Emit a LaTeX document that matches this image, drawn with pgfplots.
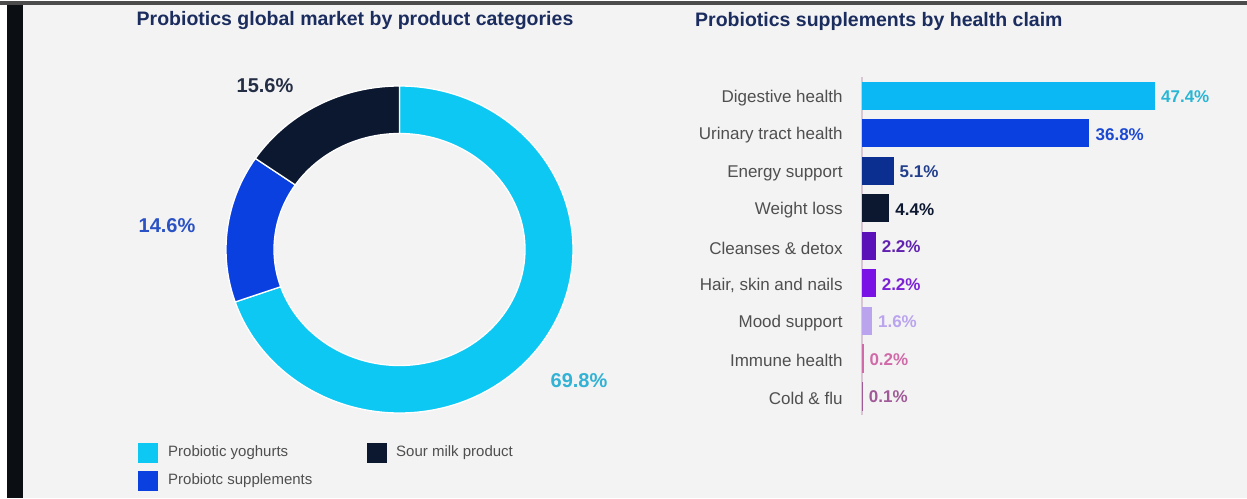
\documentclass[border=0pt]{standalone}
\usepackage{pgfplots}
\pgfplotsset{compat=1.18}
\usepackage{fontspec}
\setmainfont{Liberation Sans}
\definecolor{bgc}{HTML}{F4F3F4}
\definecolor{frame}{HTML}{0B0F14}
\definecolor{titlec}{HTML}{1B2D5E}
\definecolor{labelc}{HTML}{4F4F4F}
\definecolor{cyanc}{HTML}{0CC8F2}
\definecolor{bluec}{HTML}{0A3FE0}
\definecolor{navyc}{HTML}{0C1730}
\definecolor{energyc}{HTML}{0B2F90}
\definecolor{cleansec}{HTML}{5A12B8}
\definecolor{hairc}{HTML}{7A12E6}
\definecolor{moodc}{HTML}{BAA4EE}
\definecolor{immunec}{HTML}{D06AA8}
\definecolor{coldc}{HTML}{A05A98}
\definecolor{axisc}{HTML}{D8C6D2}
% donut values
\def\vyog{69.8}
\def\vsup{14.6}
\def\vsour{15.6}
\pgfmathsetmacro\aA{90}
\pgfmathsetmacro\aB{90-3.6*\vyog}
\pgfmathsetmacro\aC{\aB-3.6*\vsup}
\pgfmathsetmacro\aD{\aC-3.6*\vsour}
\newcommand\seg[3]{%
  \fill[#1, draw=white, line width=1.3pt]
    (axis cs:{173.5*cos(#2)},{163.5*sin(#2)})
    arc[start angle=#2, end angle=#3, x radius=173.5pt, y radius=163.5pt]
    -- (axis cs:{125.5*cos(#3)},{116*sin(#3)})
    arc[start angle=#3, end angle=#2, x radius=125.5pt, y radius=116pt]
    -- cycle;}
\begin{document}
\begin{tikzpicture}[x=1pt,y=1pt]
\fill[bgc] (0,0) rectangle (1247,498);
\fill[white] (0,0) rectangle (7,498);
\fill[frame] (7,0) rectangle (23,498);
\fill[white] (0,496.5) rectangle (1247,498);
\fill[black!70] (0,493) rectangle (1247,496.5);
% titles
\node[font=\fontsize{19.5}{23}\selectfont\bfseries, text=titlec] at (355,477) {Probiotics global market by product categories};
\node[font=\fontsize{19.5}{23}\selectfont\bfseries, text=titlec, anchor=west, inner sep=0pt] at (695,477) {Probiotics supplements by health claim};
% donut
\begin{axis}[at={(399.5pt,248.5pt)}, anchor=center, x=1pt, y=1pt,
  xmin=-200, xmax=200, ymin=-200, ymax=200, hide axis, clip=false]
\seg{cyanc}{\aA}{\aB}
\seg{bluec}{\aB}{\aC}
\seg{navyc}{\aC}{\aD}
\node[font=\fontsize{20}{24}\selectfont\bfseries, text=navyc!90!white] at (axis cs:-134.5,163.5) {15.6\%};
\node[font=\fontsize{20}{24}\selectfont\bfseries, text={rgb,255:red,42;green,82;blue,196}] at (axis cs:-232.5,23.5) {14.6\%};
\node[font=\fontsize{20}{24}\selectfont\bfseries, text={rgb,255:red,50;green,178;blue,212}] at (axis cs:179.5,-131.5) {69.8\%};
\end{axis}
% legend
\fill[cyanc] (138,35) rectangle (158,55);
\fill[bluec] (138,7) rectangle (158,27);
\fill[navyc] (367,35) rectangle (387,55);
\node[font=\fontsize{15}{18}\selectfont, text=labelc, anchor=west, inner sep=0pt] at (168,45) {Probiotic yoghurts};
\node[font=\fontsize{15}{18}\selectfont, text=labelc, anchor=west, inner sep=0pt] at (168,17) {Probiotc supplements};
\node[font=\fontsize{15}{18}\selectfont, text=labelc, anchor=west, inner sep=0pt] at (396,45) {Sour milk product};
% bar chart (category 8 = top row, 0 = bottom row)
\begin{axis}[at={(862pt,83.25pt)}, anchor=south west,
  scale only axis, width=370.8pt, height=337.5pt,
  xmin=0, xmax=60, ymin=-0.5, ymax=8.5,
  xbar, bar width=28pt, bar shift=0pt,
  hide x axis, axis y line*=left,
  y axis line style={-, draw=axisc, line width=1.2pt},
  ytick={0,...,8}, ytick style={draw=none},
  yticklabels={Cold \& flu, Immune health, Mood support, {Hair, skin and nails}, Cleanses \& detox, Weight loss, Energy support, Urinary tract health, Digestive health},
  yticklabel style={font=\fontsize{17}{20}\selectfont, text=labelc, inner sep=0pt, xshift=-15pt, yshift=-2pt},
  point meta=explicit symbolic,
  nodes near coords,
  nodes near coords style={font=\fontsize{17}{20}\selectfont\bfseries, anchor=west, inner sep=0pt, xshift=6pt, yshift=-1pt},
  clip=false]
\addplot[fill=cyanc!92!blue, draw=none, every node near coord/.append style={text=cyanc!75!gray}] coordinates {(47.4,8) [47.4\%]};
\addplot[fill=bluec, draw=none, every node near coord/.append style={text=bluec!85!gray}] coordinates {(36.8,7) [36.8\%]};
\addplot[fill=energyc, draw=none, every node near coord/.append style={text=energyc!80!gray}] coordinates {(5.1,6) [5.1\%]};
\addplot[fill=navyc, draw=none, every node near coord/.append style={text=navyc}] coordinates {(4.4,5) [4.4\%]};
\addplot[fill=cleansec, draw=none, every node near coord/.append style={text=cleansec!85!gray}] coordinates {(2.2,4) [2.2\%]};
\addplot[fill=hairc, draw=none, every node near coord/.append style={text=hairc!85!gray}] coordinates {(2.2,3) [2.2\%]};
\addplot[fill=moodc, draw=none, every node near coord/.append style={text=moodc}] coordinates {(1.6,2) [1.6\%]};
\addplot[fill=immunec, draw=immunec, line width=0.6pt, every node near coord/.append style={text=immunec}] coordinates {(0.2,1) [0.2\%]};
\addplot[fill=coldc, draw=coldc, line width=0.6pt, every node near coord/.append style={text=coldc}] coordinates {(0.1,0) [0.1\%]};
\end{axis}
\end{tikzpicture}
\end{document}
